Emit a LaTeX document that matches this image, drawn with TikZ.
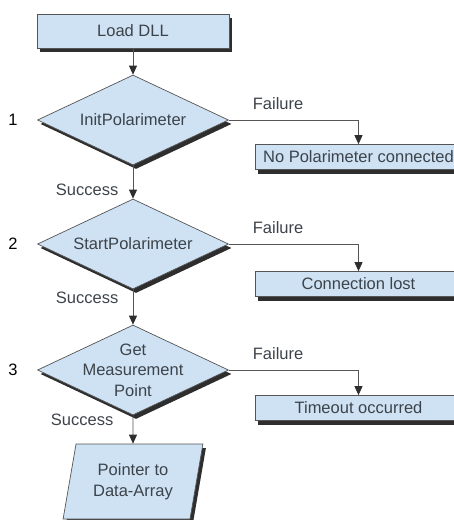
\documentclass[tikz,border=0pt]{standalone}
\usepackage{fontspec}
\setmainfont{Liberation Sans}
\usepackage{xcolor}
\usepackage{tikz}
\usetikzlibrary{arrows.meta,positioning,shapes.geometric,shadows}
\definecolor{ink}{HTML}{2E2E2E}
\definecolor{softblue}{HTML}{CFE2F3}
\definecolor{edge}{HTML}{555555}
\definecolor{textgray}{HTML}{3C434A}

\begin{document}
\begin{tikzpicture}[
  x=1pt, y=-1pt,
  font=\fontsize{16.5}{20.5}\selectfont,
  flat/.style={fill=softblue, draw=edge, line width=0.7pt, text=textgray, align=center,
    general shadow={fill=ink, shadow xshift=3pt, shadow yshift=-4pt}},
  box/.style={flat, rectangle, minimum width=192pt, minimum height=34pt},
  failbox/.style={flat, rectangle, minimum width=207pt, minimum height=25pt, inner sep=2pt},
  decision/.style={flat, diamond, aspect=2.1, inner sep=-6pt, minimum width=191pt, minimum height=90pt},
  dataout/.style={flat, trapezium, trapezium left angle=77, trapezium right angle=103, trapezium stretches=true, minimum width=140pt, minimum height=75pt},
  lbl/.style={text=textgray},
  num/.style={text=black},
  arrow/.style={-{Triangle[length=9pt, width=8pt, color=ink]}, draw=edge, line width=0.8pt}
]
\useasboundingbox (0,0) rectangle (454,520);
\clip (0,0) rectangle (454,520);

% main column
\node[box] (load) at (133,31) {Load DLL};
\node[decision] (init) at (133,120) {InitPolarimeter};
\node[decision] (start) at (133,244) {StartPolarimeter};
\node[decision] (get) at (133,370) {Get\\Measurement\\Point};
\node[dataout] (ptr) at (133,481.5) {Pointer to\\Data-Array};

% failure boxes
\node[failbox] (nopol) at (358.5,157) {No Polarimeter connected};
\node[failbox] (lost) at (358.5,284) {Connection lost};
\node[failbox] (tout) at (358.5,408) {Timeout occurred};

% step numbers
\node[num, left=16pt of init.west] (n1) {1};
\node[num, left=16pt of start.west] (n2) {2};
\node[num, left=16pt of get.west] (n3) {3};

\draw[arrow] (load) -- (init);
\draw[arrow] (init) -- node[lbl, pos=0.72, left=11pt] {Success} (start);
\draw[arrow] (start) -- node[lbl, pos=0.25, left=11pt] {Success} (get);
\draw[arrow] (get) -- node[lbl, pos=0.17, left=16pt] {Success} (ptr);
\draw[arrow] (init.east) -| node[lbl, pos=0.19, above=7pt] {Failure} (nopol.north);
\draw[arrow] (start.east) -| node[lbl, pos=0.19, above=7pt] {Failure} (lost.north);
\draw[arrow] (get.east) -| node[lbl, pos=0.19, above=7pt] {Failure} (tout.north);
\end{tikzpicture}
\end{document}
